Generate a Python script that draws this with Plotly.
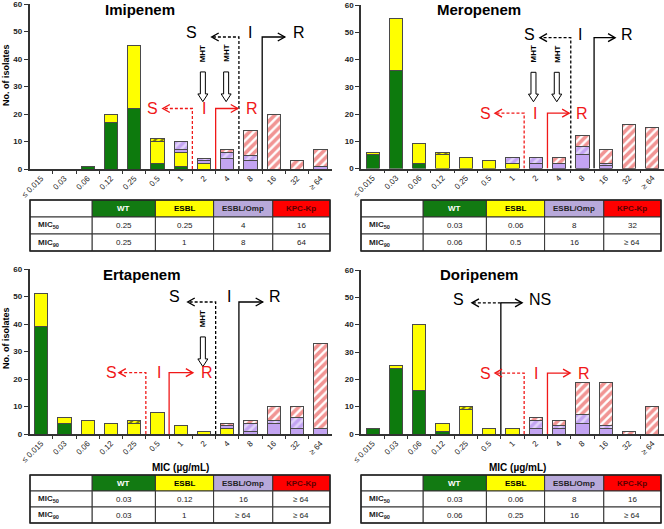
import plotly.graph_objects as go

# ---------------- data ----------------
mic_labels = ["≤ 0.015", "0.03", "0.06", "0.12", "0.25", "0.5", "1", "2", "4", "8", "16", "32", "≥ 64"]
group_names = ["WT", "ESBL", "ESBL (hatched)", "ESBL/Omp", "ESBL/Omp (hatched)", "KPC-Kp"]
y_ticks = [0, 10, 20, 30, 40, 50, 60]

imi_wt    = [0, 0, 1, 17, 22, 2, 1, 0, 0, 0, 0, 0, 0]
imi_esbl  = [0, 0, 0, 3, 23, 8, 5, 2, 0, 0, 0, 0, 0]
imi_esblh = [0, 0, 0, 0, 0, 1, 0, 0, 0, 0, 0, 0, 0]
imi_omp   = [0, 0, 0, 0, 0, 0, 1, 1, 4, 3, 0, 0, 1]
imi_omph  = [0, 0, 0, 0, 0, 0, 3, 1, 2, 2, 0, 0, 0]
imi_kpc   = [0, 0, 0, 0, 0, 0, 0, 0, 1, 9, 20, 3, 6]

mer_wt    = [5, 36, 2, 0, 0, 0, 0, 0, 0, 0, 0, 0, 0]
mer_esbl  = [1, 19, 7, 5, 4, 3, 2, 0, 0, 0, 0, 0, 0]
mer_esblh = [0, 0, 0, 1, 0, 0, 0, 0, 0, 0, 0, 0, 0]
mer_omp   = [0, 0, 0, 0, 0, 0, 0, 2, 2, 5, 1, 0, 0]
mer_omph  = [0, 0, 0, 0, 0, 0, 2, 2, 0, 3, 1, 0, 0]
mer_kpc   = [0, 0, 0, 0, 0, 0, 0, 0, 2, 4, 5, 16, 15]

ert_wt    = [39, 4, 0, 0, 0, 0, 0, 0, 0, 0, 0, 0, 0]
ert_esbl  = [12, 2, 5, 4, 4, 8, 3, 1, 2, 0, 0, 0, 0]
ert_esblh = [0, 0, 0, 0, 1, 0, 0, 0, 0, 0, 0, 0, 0]
ert_omp   = [0, 0, 0, 0, 0, 0, 0, 0, 1, 1, 4, 2, 2]
ert_omph  = [0, 0, 0, 0, 0, 0, 0, 0, 0, 3, 1, 4, 0]
ert_kpc   = [0, 0, 0, 0, 0, 0, 0, 0, 1, 1, 5, 4, 31]

dor_wt    = [2, 24, 16, 1, 0, 0, 0, 0, 0, 0, 0, 0, 0]
dor_esbl  = [0, 1, 24, 3, 9, 2, 2, 0, 0, 0, 0, 0, 0]
dor_esblh = [0, 0, 0, 0, 1, 0, 0, 0, 0, 0, 0, 0, 0]
dor_omp   = [0, 0, 0, 0, 0, 0, 0, 2, 2, 4, 2, 0, 0]
dor_omph  = [0, 0, 0, 0, 0, 0, 0, 3, 1, 3, 1, 0, 0]
dor_kpc   = [0, 0, 0, 0, 0, 0, 0, 1, 2, 12, 16, 1, 10]

table_header = ["", "WT", "ESBL", "ESBL/Omp", "KPC-Kp"]
table_rows = ["MIC<sub>50</sub>", "MIC<sub>90</sub>"]
imi_mic50 = ["0.25", "0.25", "4", "16"]
imi_mic90 = ["0.25", "1", "8", "64"]
mer_mic50 = ["0.03", "0.06", "8", "32"]
mer_mic90 = ["0.06", "0.5", "16", "≥ 64"]
ert_mic50 = ["0.03", "0.12", "16", "≥ 64"]
ert_mic90 = ["0.03", "1", "≥ 64", "≥ 64"]
dor_mic50 = ["0.03", "0.06", "8", "16"]
dor_mic90 = ["0.06", "0.25", "16", "≥ 64"]

# ---------------- style ----------------
W, H = 664, 529
FONT = "Liberation Sans, Arial, sans-serif"
GREEN = "#0d7a0d"
YELLOW = "#ffff00"
LAV = "#c3a4f2"
RED = "#e32a28"
OUTLINE = "#4a4a4a"
HEAD_FILL = ["#ffffff", "#127a12", "#ffff00", "#b8a9da", "#ff0000"]
HEAD_FONT = ["#000000", "#ffffff", "#000000", "#222222", "#5a0000"]
COL_W = [62, 63, 58, 59, 57]

def px_x(p):
    return p / W

def px_y(p):
    return 1 - p / H

panels = [
    dict(name="Imipenem", ax="", data=[imi_wt, imi_esbl, imi_esblh, imi_omp, imi_omph, imi_kpc],
         mic50=imi_mic50, mic90=imi_mic90,
         xd=[29.5, 332], yd=[169, 4], tbl_x=[30, 330], tbl_y=[200, 251],
         title=(140, 10)),
    dict(name="Meropenem", ax="2", data=[mer_wt, mer_esbl, mer_esblh, mer_omp, mer_omph, mer_kpc],
         mic50=mer_mic50, mic90=mer_mic90,
         xd=[361, 664], yd=[168.5, 5], tbl_x=[361, 661], tbl_y=[200, 251],
         title=(479, 10)),
    dict(name="Ertapenem", ax="3", data=[ert_wt, ert_esbl, ert_esblh, ert_omp, ert_omph, ert_kpc],
         mic50=ert_mic50, mic90=ert_mic90,
         xd=[29.5, 332], yd=[434, 269], tbl_x=[30, 330], tbl_y=[475, 523],
         title=(142, 274)),
    dict(name="Doripenem", ax="4", data=[dor_wt, dor_esbl, dor_esblh, dor_omp, dor_omph, dor_kpc],
         mic50=dor_mic50, mic90=dor_mic90,
         xd=[361, 664], yd=[434, 270], tbl_x=[361, 661], tbl_y=[475, 523],
         title=(479, 274)),
]

seg_styles = [
    dict(color=GREEN),
    dict(color=YELLOW),
    dict(color=YELLOW, pattern=dict(shape="/", fgcolor="#000000", bgcolor=YELLOW, size=5, solidity=0.45)),
    dict(color=LAV),
    dict(color=LAV, pattern=dict(shape="/", fgcolor="#ffffff", bgcolor=LAV, size=6, solidity=0.45)),
    dict(color="#ffffff", pattern=dict(shape="/", fgcolor=RED, bgcolor="#ffffff", size=6, solidity=0.6)),
]

fig = go.Figure()
xs = list(range(len(mic_labels)))
shapes = []
annotations = []

for p in panels:
    a = p["ax"]
    for gname, vals, st in zip(group_names, p["data"], seg_styles):
        fig.add_trace(go.Bar(
            x=xs, y=vals, name=gname, width=0.57,
            marker=dict(line=dict(color=OUTLINE, width=1), **st),
            xaxis="x" + a, yaxis="y" + a, showlegend=False,
            hovertext=mic_labels,
        ))

    # ---- MIC table drawn with shapes + annotations (paper coords) ----
    x0, x1 = p["tbl_x"]
    y0, y1 = p["tbl_y"]
    tot = float(sum(COL_W))
    edges = [x0]
    for w in COL_W:
        edges.append(edges[-1] + w / tot * (x1 - x0))
    rh = (y1 - y0) / 3.0
    row_edges = [y0 + i * rh for i in range(4)]
    body = [[table_rows[0]] + p["mic50"], [table_rows[1]] + p["mic90"]]
    for r in range(3):
        for c in range(5):
            fill = HEAD_FILL[c] if r == 0 else "#ffffff"
            shapes.append(dict(type="rect", xref="paper", yref="paper", layer="above",
                               x0=px_x(edges[c]), x1=px_x(edges[c + 1]),
                               y0=px_y(row_edges[r + 1]), y1=px_y(row_edges[r]),
                               fillcolor=fill, line=dict(color="#333333", width=1)))
            if r == 0:
                label = table_header[c]
                if not label:
                    continue
                text = "<b>%s</b>" % label
                color = HEAD_FONT[c]
            else:
                text = body[r - 1][c]
                color = "#222222"
                if c == 0:
                    text = "<b>%s</b>" % text
            if c == 0:
                xa, xanc = px_x(edges[0] + 6), "left"
            else:
                xa, xanc = px_x((edges[c] + edges[c + 1]) / 2), "center"
            annotations.append(dict(xref="paper", yref="paper", x=xa,
                                    y=px_y((row_edges[r] + row_edges[r + 1]) / 2),
                                    text=text, showarrow=False, xanchor=xanc, yanchor="middle",
                                    font=dict(family=FONT, size=8, color=color)))
    shapes.append(dict(type="rect", xref="paper", yref="paper", layer="above",
                       x0=px_x(x0), x1=px_x(x1), y0=px_y(y1), y1=px_y(y0),
                       line=dict(color="#222222", width=1.5)))

layout_axes = {}
for p in panels:
    a = p["ax"]
    layout_axes["xaxis" + a] = dict(
        domain=[px_x(p["xd"][0]), px_x(p["xd"][1])],
        anchor="y" + a, range=[-0.5, 12.5], tickmode="array", automargin=False,
        tickvals=xs, ticktext=mic_labels, tickangle=-45, ticks="",
        ticklabeloverflow="allow",
        tickfont=dict(family=FONT, size=8, color="#222"),
        showline=True, linecolor="#333", linewidth=1.5, showgrid=False, zeroline=False,
        minor=dict(tickmode="array", tickvals=[i + 0.5 for i in xs[:-1]], ticks="outside",
                   ticklen=3, tickwidth=1, tickcolor="#333", showgrid=False),
        fixedrange=True,
    )
    layout_axes["yaxis" + a] = dict(
        domain=[px_y(p["yd"][0]), px_y(p["yd"][1])],
        anchor="x" + a, range=[0, 60], tickmode="array", tickvals=y_ticks, automargin=False,
        ticklabeloverflow="allow",
        ticks="outside", ticklen=4, tickwidth=1, tickcolor="#333",
        tickfont=dict(family=FONT, size=8, color="#222", weight="bold"),
        showline=True, linecolor="#333", linewidth=1.5, showgrid=False, zeroline=False,
        fixedrange=True,
    )


def txt(a, x, y, s, color="#000", size=16, bold=False, angle=0):
    annotations.append(dict(xref="x" + a, yref="y" + a, x=x, y=y, text=s, showarrow=False,
                            textangle=angle, xanchor="center", yanchor="middle",
                            font=dict(family=FONT, size=size, color=color,
                                      weight="bold" if bold else "normal")))


def bracket(a, xline, ytop, xtip, color, dash, vertical=True):
    path = ("M%s,0 L%s,%s L%s,%s" % (xline, xline, ytop, xtip, ytop)) if vertical else \
           ("M%s,%s L%s,%s" % (xline, ytop, xtip, ytop))
    shapes.append(dict(type="path", xref="x" + a, yref="y" + a, path=path,
                       line=dict(color=color, width=1.3, dash=dash)))
    s = 1 if xtip < xline else -1
    shapes.append(dict(type="path", xref="x" + a, yref="y" + a,
                       xsizemode="pixel", ysizemode="pixel", xanchor=xtip, yanchor=ytop,
                       path="M%d,4 L0,0 L%d,-4" % (7 * s, 7 * s),
                       line=dict(color=color, width=1.4)))


def mht(a, xc):
    shapes.append(dict(type="path", xref="x" + a, yref="y" + a, xsizemode="pixel", xanchor=xc,
                       path="M-2.5,35.3 L2.5,35.3 L2.5,27.3 L5,27.3 L0,24.5 L-5,27.3 L-2.5,27.3 Z",
                       line=dict(color="#000", width=1), fillcolor="#ffffff"))
    txt(a, xc, 42, "MHT", size=8, bold=True, angle=-90)


RED_T = "#f01818"
DASH = "3px,2px"

# Imipenem
a = ""
bracket(a, 8.5, 48, 7.33, "#000", DASH); bracket(a, 9.5, 48, 10.47, "#000", "solid")
txt(a, 6.47, 49.8, "S"); txt(a, 8.96, 49.8, "I"); txt(a, 11.1, 49.8, "R")
bracket(a, 6.5, 22, 5.23, RED_T, DASH); bracket(a, 7.5, 22, 8.45, RED_T, "solid")
txt(a, 4.8, 22, "S", RED_T); txt(a, 7.0, 22, "I", RED_T); txt(a, 9.05, 22, "R", RED_T)
mht(a, 6.95); mht(a, 7.95)

# Meropenem
a = "2"
bracket(a, 8.5, 48, 7.18, "#000", DASH); bracket(a, 9.5, 48, 10.4, "#000", "solid")
txt(a, 6.71, 49.3, "S"); txt(a, 8.9, 49.3, "I"); txt(a, 10.9, 49.3, "R")
bracket(a, 6.5, 20.3, 5.25, RED_T, DASH); bracket(a, 7.5, 20.3, 8.43, RED_T, "solid")
txt(a, 4.82, 20.3, "S", RED_T); txt(a, 6.97, 20.3, "I", RED_T); txt(a, 8.98, 20.3, "R", RED_T)
mht(a, 6.9); mht(a, 7.9)

# Ertapenem
a = "3"
bracket(a, 7.5, 48, 6.3, "#000", DASH); bracket(a, 8.5, 48, 9.52, "#000", "solid")
txt(a, 5.74, 50, "S"); txt(a, 8.06, 50, "I"); txt(a, 10.04, 50, "R")
bracket(a, 4.5, 22.3, 3.34, RED_T, DASH); bracket(a, 5.5, 22.3, 6.52, RED_T, "solid")
txt(a, 3.04, 22.3, "S", RED_T); txt(a, 5.06, 22.3, "I", RED_T); txt(a, 7.12, 22.3, "R", RED_T)
mht(a, 6.95)

# Doripenem
a = "4"
shapes.append(dict(type="line", xref="x4", yref="y4", x0=5.5, x1=5.5, y0=0, y1=48,
                   line=dict(color="#000", width=1.3)))
bracket(a, 5.5, 48, 4.26, "#000", DASH, vertical=False)
bracket(a, 5.5, 48, 6.41, "#000", "solid", vertical=False)
txt(a, 3.7, 49.3, "S"); txt(a, 7.18, 49.3, "NS")
bracket(a, 6.5, 22.3, 5.25, RED_T, DASH); bracket(a, 7.5, 22.3, 8.47, RED_T, "solid")
txt(a, 4.86, 22.3, "S", RED_T); txt(a, 7.0, 22.3, "I", RED_T); txt(a, 9.07, 22.3, "R", RED_T)

# titles and axis titles (paper coords)
for p in panels:
    annotations.append(dict(xref="paper", yref="paper", x=px_x(p["title"][0]), y=px_y(p["title"][1]),
                            text="<b>%s</b>" % p["name"], showarrow=False,
                            xanchor="center", yanchor="middle",
                            font=dict(family=FONT, size=15, color="#000")))
for yy in (75, 338):
    annotations.append(dict(xref="paper", yref="paper", x=px_x(6), y=px_y(yy),
                            text="<b>No. of isolates</b>", showarrow=False, textangle=-90,
                            xanchor="center", yanchor="middle",
                            font=dict(family=FONT, size=9, color="#000")))
for xx in (180, 517):
    annotations.append(dict(xref="paper", yref="paper", x=px_x(xx), y=px_y(467),
                            text="<b>MIC (µg/mL)</b>", showarrow=False,
                            xanchor="center", yanchor="middle",
                            font=dict(family=FONT, size=10, color="#000")))

fig.update_layout(
    width=W, height=H, margin=dict(l=0, r=0, t=0, b=0, autoexpand=False),
    paper_bgcolor="#ffffff", plot_bgcolor="#ffffff",
    barmode="stack", showlegend=False,
    shapes=shapes, annotations=annotations,
    font=dict(family=FONT),
    **layout_axes,
)

fig.write_html("out.html", config={"displayModeBar": False},
               post_script="document.body.style.margin='0px';document.body.style.overflow='hidden';")
